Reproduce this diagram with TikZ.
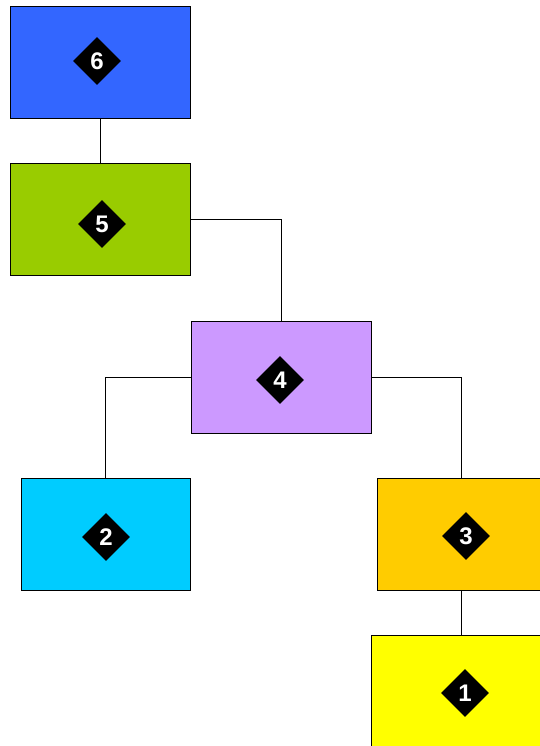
\documentclass[tikz,border=0pt]{standalone}
\usepackage{fontspec}
\setmainfont{Liberation Sans}
\usetikzlibrary{shapes.geometric}
\definecolor{c6}{HTML}{3366FF}
\definecolor{c5}{HTML}{99CC00}
\definecolor{c4}{HTML}{CC99FF}
\definecolor{c2}{HTML}{00CCFF}
\definecolor{c3}{HTML}{FFCC00}
\definecolor{c1}{HTML}{FFFF00}
\begin{document}
\begin{tikzpicture}[x=1pt,y=-1pt,
  box/.style={draw=black,line width=0.8pt,rectangle,minimum height=112pt,inner sep=0pt},
  badge/.style={diamond,fill=black,minimum size=48pt,inner sep=0pt,text=white,font=\fontsize{24}{24}\selectfont\bfseries},
  link/.style={draw=black,line width=0.8pt}]
\useasboundingbox (0,0) rectangle (540,746);
\clip (0,0) rectangle (540,746);
\node[box,fill=c6,minimum width=180pt] (b6) at (100,62) {};
\node[box,fill=c5,minimum width=180pt] (b5) at (100,219) {};
\node[box,fill=c4,minimum width=180pt] (b4) at (281,377) {};
\node[box,fill=c2,minimum width=169pt] (b2) at (105.5,534) {};
\node[box,fill=c3,minimum width=168pt] (b3) at (461,534) {};
\node[box,fill=c1,minimum width=180pt] (b1) at (461,691) {};
\node[badge] (d6) at (97,61) {6};
\node[badge] (d5) at (102,224) {5};
\node[badge] (d4) at (280,380) {4};
\node[badge] (d2) at (106,537) {2};
\node[badge] (d3) at (466,536) {3};
\node[badge] (d1) at (465,693) {1};
\draw[link] (b6.south) -- (b5.north);
\draw[link] (b5.east) -| (b4.north);
\draw[link] (b4.west) -| (b2.north);
\draw[link] (b4.east) -| (b3.north);
\draw[link] (b3.south) -- (b1.north);
\end{tikzpicture}
\end{document}
